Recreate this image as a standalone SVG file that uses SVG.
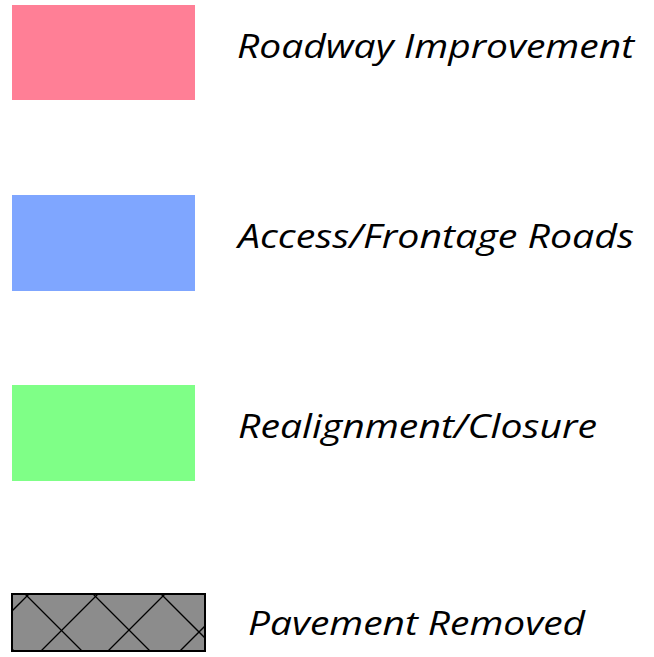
<svg xmlns="http://www.w3.org/2000/svg" width="654" height="657" viewBox="0 0 654 657">
<style>
.lbl{font-family:"Open Sans","Liberation Sans",sans-serif;font-style:italic;font-size:32px;fill:#000}
.hatch{stroke:#000;stroke-width:1.3;fill:none}
</style>
<defs>
<clipPath id="pc"><rect x="12" y="594" width="193" height="57"/></clipPath>
</defs>
<rect width="654" height="657" fill="#fff"/>
<g id="roadway">
<rect x="12" y="5" width="183" height="95" fill="#FF7F96"/>
<text class="lbl" x="237" y="58" textLength="397" lengthAdjust="spacingAndGlyphs">Roadway Improvement</text>
</g>
<g id="access">
<rect x="12" y="195" width="183" height="96" fill="#7FA6FF"/>
<text class="lbl" x="238" y="248" textLength="396" lengthAdjust="spacingAndGlyphs">Access/Frontage Roads</text>
</g>
<g id="realign">
<rect x="12" y="385" width="183" height="96" fill="#7FFF87"/>
<text class="lbl" x="238" y="438" textLength="359" lengthAdjust="spacingAndGlyphs">Realignment/Closure</text>
</g>
<g id="pavement">
<rect x="12" y="594" width="193" height="57" fill="#8C8C8C"/>
<g clip-path="url(#pc)" class="hatch">
<line x1="-43" y1="594" x2="14" y2="651"/>
<line x1="25" y1="594" x2="82" y2="651"/>
<line x1="93" y1="594" x2="150" y2="651"/>
<line x1="161" y1="594" x2="218" y2="651"/>
<line x1="29" y1="594" x2="-28" y2="651"/>
<line x1="98" y1="594" x2="41" y2="651"/>
<line x1="165" y1="594" x2="108" y2="651"/>
<line x1="237" y1="594" x2="180" y2="651"/>
</g>
<rect x="12" y="594" width="193" height="57" fill="none" stroke="#000" stroke-width="2"/>
<text class="lbl" x="248" y="635" textLength="337" lengthAdjust="spacingAndGlyphs">Pavement Removed</text>
</g>
</svg>
